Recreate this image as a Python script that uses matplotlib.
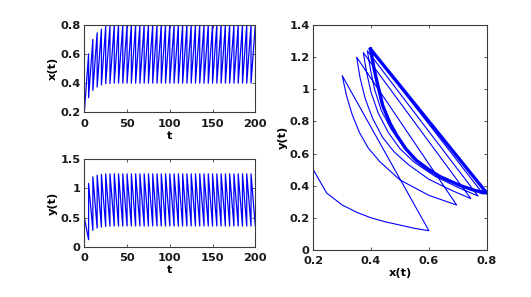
import numpy as np
import matplotlib
matplotlib.use("Agg")
import matplotlib.pyplot as plt

plt.rcParams.update({
    "font.family": "DejaVu Sans",
    "font.weight": "bold",
    "font.size": 8.2,
    "axes.labelweight": "bold",
    "axes.linewidth": 0.8,
    "axes.edgecolor": "#3c3c3c",
    "xtick.direction": "in",
    "ytick.direction": "in",
    "xtick.top": True,
    "ytick.right": True,
    "xtick.major.size": 2.5,
    "ytick.major.size": 2.5,
    "xtick.major.width": 0.6,
    "ytick.major.width": 0.6,
    "xtick.major.pad": 4.5,
    "ytick.major.pad": 2.5,
    "xtick.color": "#3c3c3c",
    "ytick.color": "#3c3c3c",
    "xtick.labelcolor": "#1a1a1a",
    "ytick.labelcolor": "#1a1a1a",
})

blue = "#0000ff"

# impulse times (period 5) and values just before / after each impulse
t_kick = np.arange(5, 205, 5)
x_pre = [0.60, 0.70, 0.745, 0.77, 0.788, 0.795] + [0.80] * 34
x_post = [0.30, 0.35, 0.373, 0.387, 0.396, 0.398] + [0.40] * 34
y_pre = [0.12, 0.28, 0.32, 0.336, 0.348, 0.352] + [0.355] * 34
y_post = [1.085, 1.20, 1.228, 1.24, 1.249, 1.25] + [1.25] * 34
x_start, y_start = 0.2, 0.5

# phase plane: flow arcs between impulses
arc_x = [
    [0.20, 0.246, 0.30, 0.35, 0.40, 0.45, 0.50, 0.55, 0.60],
    [0.30, 0.315, 0.335, 0.36, 0.39, 0.43, 0.50, 0.60, 0.696],
    [0.35, 0.362, 0.38, 0.405, 0.44, 0.48, 0.53, 0.60, 0.68, 0.745],
    [0.373, 0.385, 0.40, 0.425, 0.46, 0.50, 0.55, 0.62, 0.70, 0.77],
    [0.387, 0.398, 0.412, 0.435, 0.47, 0.51, 0.56, 0.63, 0.71, 0.788],
]
arc_y = [
    [0.50, 0.355, 0.28, 0.235, 0.20, 0.175, 0.155, 0.135, 0.12],
    [1.085, 0.96, 0.84, 0.73, 0.635, 0.55, 0.436, 0.34, 0.28],
    [1.20, 1.07, 0.94, 0.82, 0.70, 0.61, 0.53, 0.44, 0.37, 0.32],
    [1.228, 1.10, 0.98, 0.85, 0.73, 0.63, 0.545, 0.46, 0.39, 0.336],
    [1.24, 1.12, 1.00, 0.87, 0.75, 0.65, 0.56, 0.47, 0.40, 0.348],
]
cycle_x = [0.398, 0.41, 0.42, 0.44, 0.465, 0.49, 0.52, 0.555, 0.59, 0.64, 0.71, 0.76, 0.80]
cycle_y = [1.25, 1.13, 1.05, 0.90, 0.79, 0.71, 0.63, 0.56, 0.51, 0.455, 0.40, 0.37, 0.355]

# time series: slow rise/decay, jump at each impulse
ts, xs, ys = [0], [x_start], [y_start]
for k, tk in enumerate(t_kick):
    ts.append(tk); xs.append(x_pre[k]); ys.append(y_pre[k])
    if k < len(t_kick) - 1:
        ts.append(tk); xs.append(x_post[k]); ys.append(y_post[k])

# phase path: arcs joined by straight impulse jumps
px, py = [], []
for ax_, ay_ in zip(arc_x, arc_y):
    px += ax_; py += ay_
px += cycle_x; py += cycle_y

fig = plt.figure(figsize=(5.31, 2.97), dpi=100)

ax1 = fig.add_axes([0.1588, 0.6219, 0.322, 0.2946])
ax1.plot(ts, xs, color=blue, lw=0.9)
ax1.set_xlim(0, 200)
ax1.set_ylim(0.2, 0.8)
ax1.set_xticks([0, 50, 100, 150, 200])
ax1.set_yticks([0.2, 0.4, 0.6, 0.8])
ax1.set_xlabel("t", labelpad=1.5)
ax1.set_ylabel("x(t)", labelpad=2)

ax2 = fig.add_axes([0.1588, 0.1694, 0.322, 0.2943])
ax2.plot(ts, ys, color=blue, lw=0.9)
ax2.set_xlim(0, 200)
ax2.set_ylim(0, 1.5)
ax2.set_xticks([0, 50, 100, 150, 200])
ax2.set_yticks([0, 0.5, 1, 1.5])
ax2.set_yticklabels(["0", "0.5", "1", "1.5"])
ax2.set_xlabel("t", labelpad=1.5)
ax2.set_ylabel("y(t)", labelpad=2)

ax3 = fig.add_axes([0.590, 0.1582, 0.3266, 0.7576])
ax3.plot(px, py, color=blue, lw=0.8)
ax3.plot(cycle_x + [cycle_x[0]], cycle_y + [cycle_y[0]], color=blue, lw=2.4,
         solid_joinstyle="miter")
ax3.set_xlim(0.2, 0.8)
ax3.set_ylim(0, 1.4)
ax3.set_xticks([0.2, 0.4, 0.6, 0.8])
ax3.set_yticks([0, 0.2, 0.4, 0.6, 0.8, 1.0, 1.2, 1.4])
ax3.set_yticklabels(["0", "0.2", "0.4", "0.6", "0.8", "1", "1.2", "1.4"])
ax3.set_xlabel("x(t)", labelpad=1)
ax3.set_ylabel("y(t)", labelpad=1)

fig.savefig("out.png", dpi=100)
